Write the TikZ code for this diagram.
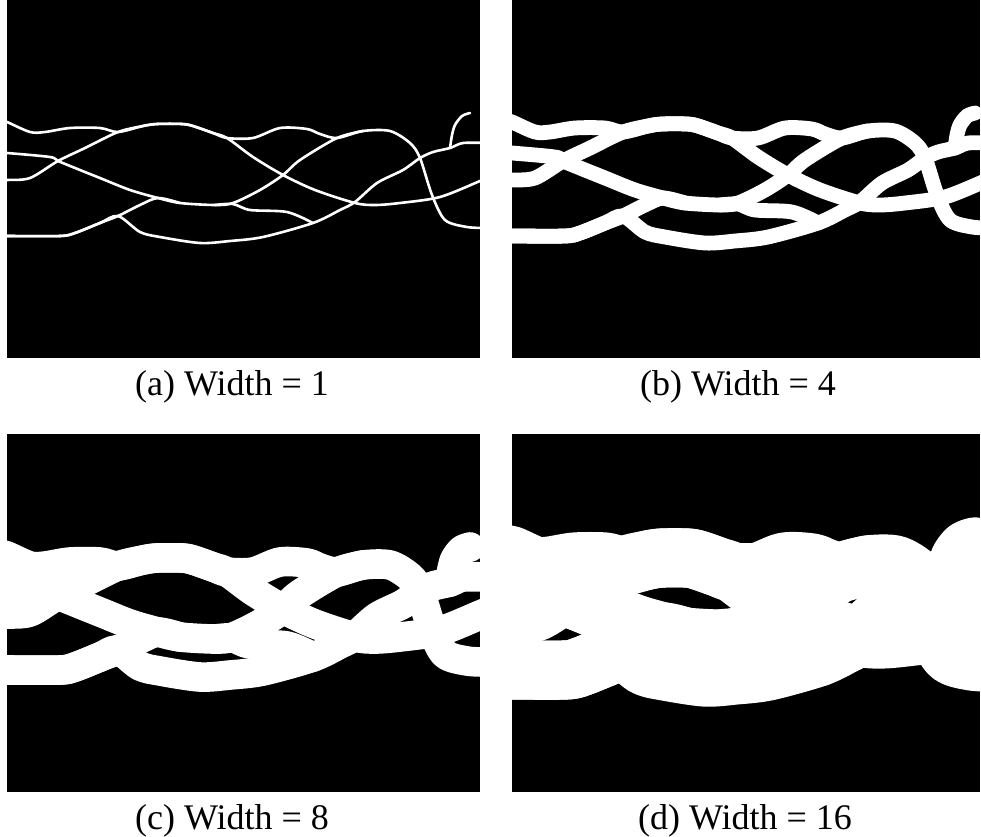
\documentclass[tikz,border=0pt]{standalone}
\usepackage{fontspec}
\setmainfont{Liberation Serif}
\tikzset{
  strand/.style={white, line cap=round, line join=round},
  panelbg/.style={fill=black},
  caption/.style={anchor=base, inner sep=0pt, font=\fontsize{36}{40}\selectfont}
}
% The same set of random strands, drawn with a given stroke width
\newcommand{\drawstrands}[1]{%
  \draw[strand, line width=#1] plot[smooth, tension=0.5] coordinates {
    (-5,121) (0,122) (23,132) (38,132) (63,128) (93,128) (111,132) (136,126) (150,124)
    (175,124) (186,126) (206,133) (220,138) (246,157) (276,175) (308,190)
    (348,203) (368,205) (393,203) (433,197) (473,181) (480,178)};
  \draw[strand, line width=#1] plot[smooth, tension=0.5] coordinates {
    (-5,180) (0,180) (23,178) (51,161) (78,148) (111,132) (136,126) (150,124) (175,124)
    (186,126) (206,133) (220,138) (246,138) (273,128) (300,129) (313,134)
    (330,138) (356,131) (383,131) (403,143) (413,158) (425,195) (438,220)
    (460,227) (480,228)};
  \draw[strand, line width=#1] plot[smooth, tension=0.5] coordinates {
    (-5,153) (0,153) (43,157) (51,161) (73,170) (93,178) (123,190) (151,198) (173,203)
    (208,205) (226,203) (253,190) (276,175) (293,160) (330,138) (356,131)};
  \draw[strand, line width=#1] plot[smooth, tension=0.5] coordinates {
    (-5,236) (0,236) (53,236) (68,233) (93,223) (111,216) (133,205) (151,198) (173,203)};
  \draw[strand, line width=#1] plot[smooth, tension=0.5] coordinates {
    (-5,236) (0,236) (53,236) (68,233) (93,223) (111,216) (133,232) (153,237) (193,243)
    (223,241) (256,237) (306,223) (333,210) (348,202) (370,183) (396,170)
    (413,158) (426,152) (443,148) (456,143) (480,143)};
  \draw[strand, line width=#1] plot[smooth, tension=0.5] coordinates {
    (208,205) (226,204) (243,210) (280,212) (306,223)};
  \draw[strand, line width=#1] plot[smooth, tension=0.5] coordinates {
    (443,148) (445,135) (448,125) (455,116) (463,113)};
}
% One black panel with its strands, clipped to the panel
\newcommand{\strandpanel}[4]{%
  \begin{scope}[shift={(#1,#2)}]
    \fill[panelbg] (0,0) rectangle (#3,358);
    \clip (0,0) rectangle (#3,358);
    \drawstrands{#4}
  \end{scope}
}
\begin{document}
\begin{tikzpicture}[x=1pt, y=-1pt]
  \useasboundingbox (0,0) rectangle (981,836);
  \strandpanel{7}{0}{473}{2.6pt}
  \strandpanel{512}{0}{468}{14.8pt}
  \strandpanel{7}{434}{473}{29.6pt}
  \strandpanel{512}{434}{468}{59.2pt}
  \node[caption] (capa) at (232,395) {(a) Width = 1};
  \node[caption] (capb) at (738,395) {(b) Width = 4};
  \node[caption] (capc) at (232,829) {(c) Width = 8};
  \node[caption] (capd) at (745,829) {(d) Width = 16};
\end{tikzpicture}
\end{document}
